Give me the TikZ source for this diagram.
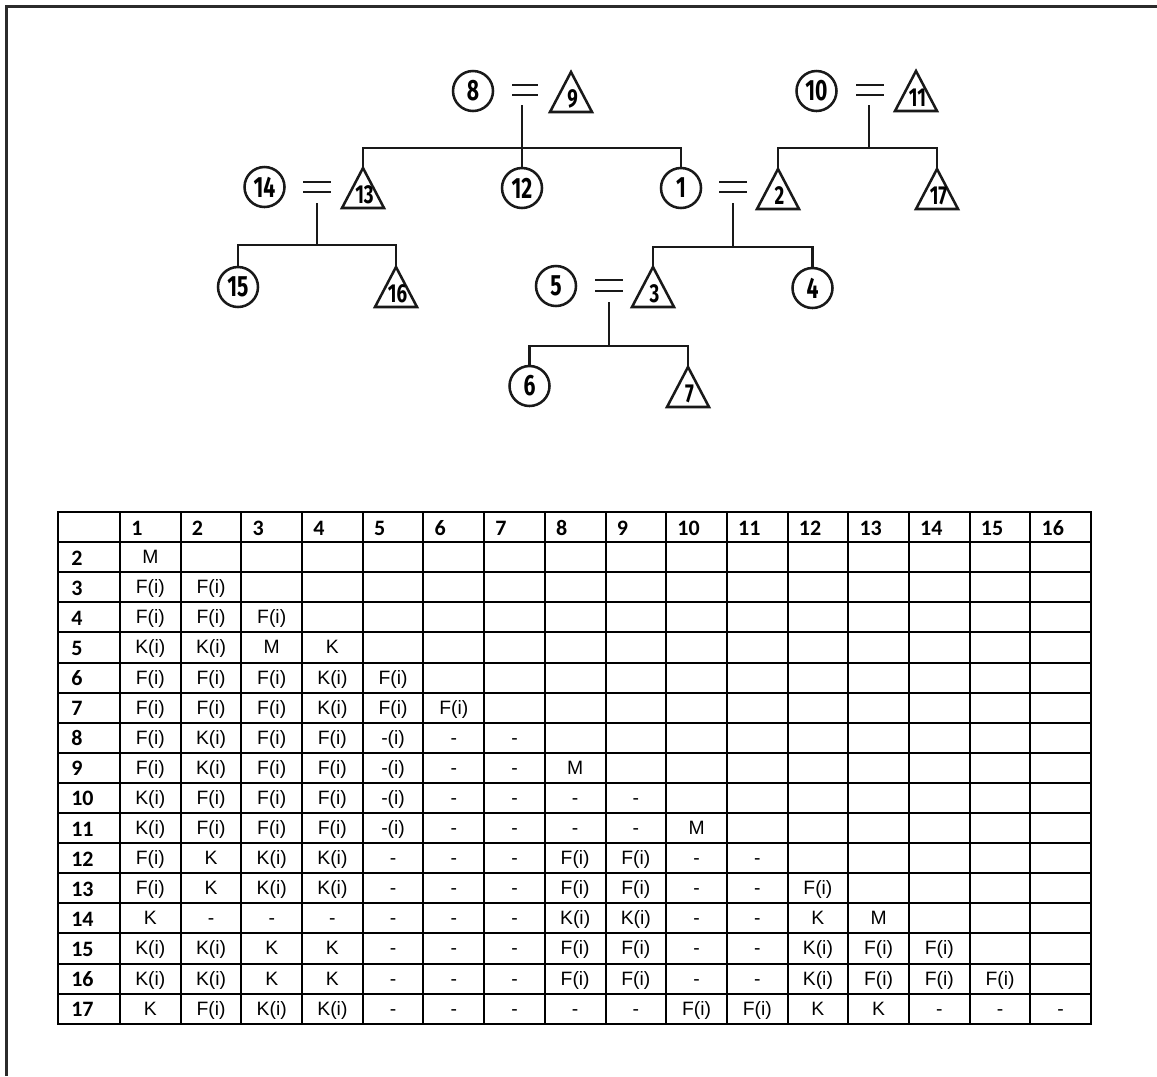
\documentclass[tikz,border=0pt]{standalone}
\usepackage{fontspec}
\newfontfamily\treefont[FakeStretch=0.72]{Fira Sans}
\newfontfamily\tabfont{Liberation Sans}
\newfontfamily\hdrfont{Carlito}
\definecolor{framegray}{HTML}{2B2B2B}
\newcommand\kintri[4]{%
  \coordinate (#1) at (#2,#3);
  \draw[treeline, line join=miter] (#1) -- ++(21,40) -- ++(-42,0) -- cycle;
  \node[trilab] (#1l) at (#2+1.5,#3+27) {#4};}
\newcommand\tabrow[2]{%
  \node[hdr] (r#1) at (71,{512+(#1-1)*30.1+15+8}) {#1};
  \foreach \c [count=\j] in {#2} {\node[cell] (d#1-\j) at ({120+(\j-0.5)*60.69},{512+(#1-1)*30.1+15+6.5}) {\c};}}
\begin{document}
\begin{tikzpicture}[x=0.75pt,y=-0.75pt,
  treeline/.style={line width=1.9pt, draw=black!90},
  circ/.style={circle, draw=black!90, line width=1.9pt, minimum size=30pt, inner sep=0pt,
    font=\fontsize{22pt}{24pt}\treefont\bfseries\selectfont},
  trilab/.style={inner sep=0pt, font=\fontsize{19.5pt}{21pt}\treefont\bfseries\selectfont},
  eqline/.style={line width=2.2pt, draw=black!90},
  tabline/.style={line width=1.5pt, draw=black, line cap=rect},
  hdr/.style={anchor=base west, inner sep=0pt, font=\fontsize{16.5pt}{18pt}\hdrfont\bfseries\selectfont},
  cell/.style={anchor=base, inner sep=0pt, font=\fontsize{14.5pt}{16pt}\tabfont\selectfont},
]
\useasboundingbox (0,0) rectangle (1157,1076);
% frame
\draw[line width=2.25pt, framegray] (1157,6) -- (6,6) -- (6,1076);

% ---------------- tree ----------------
% 8 = 9
\node[circ] (c8) at (473,91) {8};
\draw[eqline] (512,85) -- (538,85) (512,95) -- (538,95);
\kintri{t9}{571}{72}{9}
\coordinate (e89) at (522,105);
\coordinate (b89) at (522,148);
% 10 = 11
\node[circ] (c10) at (816.5,91) {10};
\draw[eqline] (856,85) -- (884,85) (856,95) -- (884,95);
\kintri{t11}{916}{71}{11}
\coordinate (e1011) at (869,105);
\coordinate (b1011) at (869,148);
% 14 = 13, 12, 1 = 2, 17
\node[circ] (c14) at (264.5,187) {14};
\draw[eqline] (303,182) -- (331,182) (303,192) -- (331,192);
\kintri{t13}{363}{168}{13}
\node[circ] (c12) at (522,188) {12};
\node[circ] (c1) at (681,188) {1};
\draw[eqline] (719,182) -- (747,182) (719,192) -- (747,192);
\kintri{t2}{778}{169}{2}
\kintri{t17}{937}{169}{17}
\coordinate (e1413) at (317,203);
\coordinate (b1413) at (317,245);
\coordinate (e12) at (733,203);
\coordinate (b12) at (733,247);
% 15, 16
\node[circ] (c15) at (238,287) {15};
\kintri{t16}{396}{267}{16}
% 5 = 3, 4
\node[circ] (c5) at (556,286) {5};
\draw[eqline] (595,280) -- (623,280) (595,291) -- (623,291);
\kintri{t3}{653}{267}{3}
\node[circ] (c4) at (812.5,288) {4};
\coordinate (e53) at (609,302);
\coordinate (b53) at (609,346);
% 6, 7
\node[circ] (c6) at (529.5,386) {6};
\kintri{t7}{688}{367}{7}

% connectors
\draw[treeline] (e89) -- (c12.north);
\draw[treeline] (t13) |- (b89) -| (c1.north);
\draw[treeline] (e1011) -- (b1011);
\draw[treeline] (t2) |- (b1011) -| (t17);
\draw[treeline] (e1413) -- (b1413);
\draw[treeline] (c15.north) |- (b1413) -| (t16);
\draw[treeline] (e12) -- (b12);
\draw[treeline] (t3) |- (b12) -| (c4.north);
\draw[treeline] (e53) -- (b53);
\draw[treeline] (c6.north) |- (b53) -| (t7);

% ---------------- table ----------------
\foreach \k in {0,...,17} \draw[tabline] (58,{512+\k*30.1}) -- (1091,{512+\k*30.1});
\draw[tabline] (58,512) -- (58,1023.7);
\foreach \j in {0,...,16} \draw[tabline] ({120+\j*60.69},512) -- ({120+\j*60.69},1023.7);
\foreach \j in {1,...,16} \node[hdr] (h\j) at ({120+(\j-1)*60.69+11},{512+15+8}) {\j};

\tabrow{2}{M}
\tabrow{3}{F(i),F(i)}
\tabrow{4}{F(i),F(i),F(i)}
\tabrow{5}{K(i),K(i),M,K}
\tabrow{6}{F(i),F(i),F(i),K(i),F(i)}
\tabrow{7}{F(i),F(i),F(i),K(i),F(i),F(i)}
\tabrow{8}{F(i),K(i),F(i),F(i),-(i),-,-}
\tabrow{9}{F(i),K(i),F(i),F(i),-(i),-,-,M}
\tabrow{10}{K(i),F(i),F(i),F(i),-(i),-,-,-,-}
\tabrow{11}{K(i),F(i),F(i),F(i),-(i),-,-,-,-,M}
\tabrow{12}{F(i),K,K(i),K(i),-,-,-,F(i),F(i),-,-}
\tabrow{13}{F(i),K,K(i),K(i),-,-,-,F(i),F(i),-,-,F(i)}
\tabrow{14}{K,-,-,-,-,-,-,K(i),K(i),-,-,K,M}
\tabrow{15}{K(i),K(i),K,K,-,-,-,F(i),F(i),-,-,K(i),F(i),F(i)}
\tabrow{16}{K(i),K(i),K,K,-,-,-,F(i),F(i),-,-,K(i),F(i),F(i),F(i)}
\tabrow{17}{K,F(i),K(i),K(i),-,-,-,-,-,F(i),F(i),K,K,-,-,-}
\end{tikzpicture}
\end{document}
